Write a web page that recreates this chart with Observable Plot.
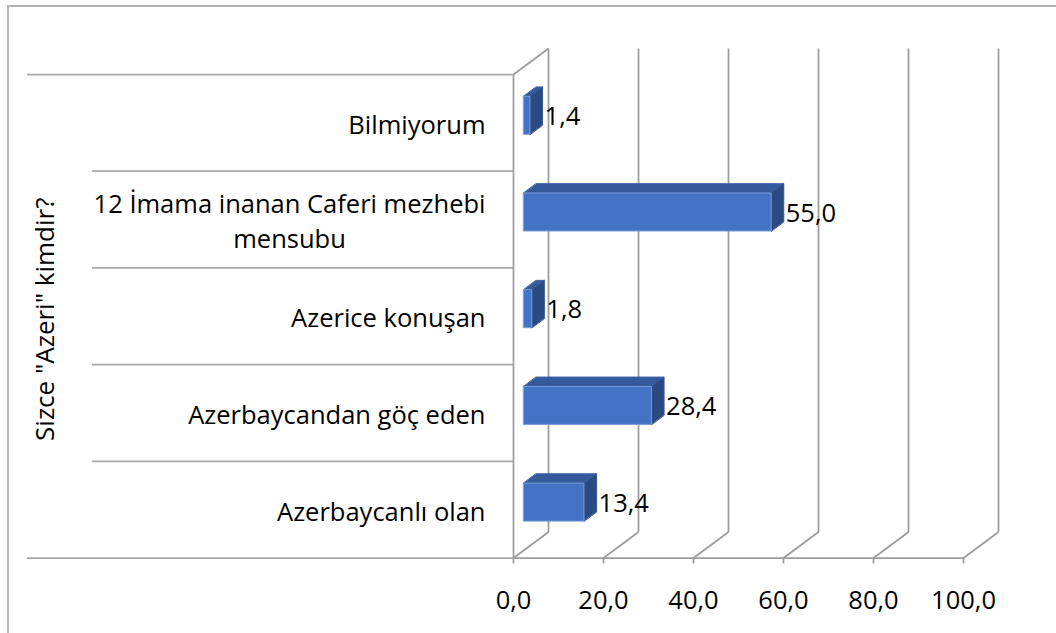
<!DOCTYPE html>
<html><head><meta charset="utf-8">
<script src="https://cdn.jsdelivr.net/npm/d3@7"></script>
<script src="https://cdn.jsdelivr.net/npm/@observablehq/plot@0.6"></script>
<style>
html,body{margin:0;padding:0;background:#fff;}
#wrap{position:relative;width:1056px;height:633px;overflow:hidden;}
#border{position:absolute;left:7px;top:5px;width:1100px;height:700px;border:2px solid #b4b4b4;pointer-events:none;}
</style></head><body>
<div id="wrap"><div id="chart"></div><div id="border"></div></div>
<script>
// ---- data ----
const categories = [
  "Bilmiyorum",
  "12 İmama inanan Caferi mezhebi\nmensubu",
  "Azerice konuşan",
  "Azerbaycandan göç eden",
  "Azerbaycanlı olan"
];
const values = [1.4, 55.0, 1.8, 28.4, 13.4];
const xTicks = [0, 20, 40, 60, 80, 100];
const axisTitle = 'Sizce "Azeri" kimdir?';

// ---- layout ----
const W = 1056, H = 633, mL = 513, mR = 93, mT = 74, mB = 75.5;
const n = categories.length;
const pxPerX = (W - mL - mR) / 100;
const pxPerY = (H - mT - mB) / n;
const depthPx = [35, -26];
const Dx = depthPx[0] / pxPerX, Dy = -depthPx[1] / pxPerY;
const f0 = 0.29, f1 = 0.65;
const barH = 38 / pxPerY;
const fmt = v => v.toFixed(1).replace(".", ",");
const rows = categories.map((c, i) => ({c, v: values[i], yc: n - 1 - i + 0.5}));

const frontFace = [], topFace = [], sideFace = [];
rows.forEach((r, i) => {
  const x0 = f0 * Dx, x1 = x0 + r.v, yF = r.yc + f0 * Dy;
  const yt = yF + barH / 2, yb = yF - barH / 2;
  const bx = (f1 - f0) * Dx, by = (f1 - f0) * Dy;
  const P = (arr, pts) => pts.forEach(([x, y]) => arr.push({id: i, x, y}));
  P(frontFace, [[x0, yb], [x1, yb], [x1, yt], [x0, yt]]);
  P(topFace, [[x0, yt], [x1, yt], [x1 + bx, yt + by], [x0 + bx, yt + by]]);
  P(sideFace, [[x1, yb], [x1, yt], [x1 + bx, yt + by], [x1 + bx, yb + by]]);
});

const links = [];
xTicks.forEach(t => {
  links.push({x1: t, y1: 0, x2: t + Dx, y2: Dy});
  links.push({x1: t + Dx, y1: Dy, x2: t + Dx, y2: n + Dy});
});
links.push({x1: 0, y1: 0, x2: 0, y2: n});
links.push({x1: 0, y1: n, x2: Dx, y2: n + Dy});
links.push({x1: 0, y1: 0, x2: 100, y2: 0});

const gridColor = "#9c9c9c";
const labelOffX = (f1 * depthPx[0] + 2) / pxPerX;
const labelOffY = 6 / pxPerY;

const chart = Plot.plot({
  width: W, height: H,
  marginLeft: mL, marginRight: mR, marginTop: mT, marginBottom: mB,
  x: {domain: [0, 100], axis: null},
  y: {domain: [0, n], axis: null},
  style: {fontFamily: "'Open Sans', sans-serif", fontSize: "25.5px", color: "#000", background: "transparent"},
  marks: [
    Plot.link(links, {x1: "x1", y1: "y1", x2: "x2", y2: "y2", stroke: gridColor, strokeWidth: 1.75}),
    Plot.axisY({ticks: [0, n], tickSize: 486, tickFormat: () => "", stroke: "#a8a8a8", strokeWidth: 1.75}),
    Plot.axisY({ticks: d3.range(1, n), tickSize: 421, tickFormat: () => "", stroke: "#a8a8a8", strokeWidth: 1.75}),
    Plot.axisX({ticks: xTicks, tickSize: 6, tickFormat: () => "", stroke: gridColor, strokeWidth: 1.75}),
    Plot.axisX({ticks: xTicks, tickSize: 0, tickPadding: 33, tickFormat: fmt, fill: "#000"}),
    Plot.axisY({ticks: rows.map(r => r.yc), tickSize: 0, tickPadding: 28, lineHeight: 1.37,
      tickFormat: v => rows.find(r => r.yc === v).c, fill: "#000"}),
    Plot.text([axisTitle], {frameAnchor: "left", text: d => d, rotate: -90, textAnchor: "middle",
      dx: -468, dy: 3, fontSize: 26, fill: "#000"}),
    Plot.line(topFace, {x: "x", y: "y", z: "id", curve: "linear-closed", fill: "#355a9c", stroke: "#3d64a8", strokeWidth: 1}),
    Plot.line(sideFace, {x: "x", y: "y", z: "id", curve: "linear-closed", fill: "#2b4a82", stroke: "#33558f", strokeWidth: 1}),
    Plot.line(frontFace, {x: "x", y: "y", z: "id", curve: "linear-closed", fill: "#4472c4", stroke: "#7a9ad6", strokeWidth: 1}),
    Plot.text(rows, {x: d => d.v + labelOffX, y: d => d.yc + labelOffY, text: d => fmt(d.v), textAnchor: "start", fill: "#000"})
  ]
});
document.getElementById("chart").appendChild(chart);
chart.querySelectorAll("text").forEach(t => {
  const ts = t.querySelectorAll("tspan");
  if (ts.length > 1) {
    const w = [...ts].map(s => s.getComputedTextLength());
    const wmax = Math.max(...w);
    ts.forEach((s, k) => s.setAttribute("x", -(wmax - w[k]) / 2));
  }
});
</script>
</body></html>
